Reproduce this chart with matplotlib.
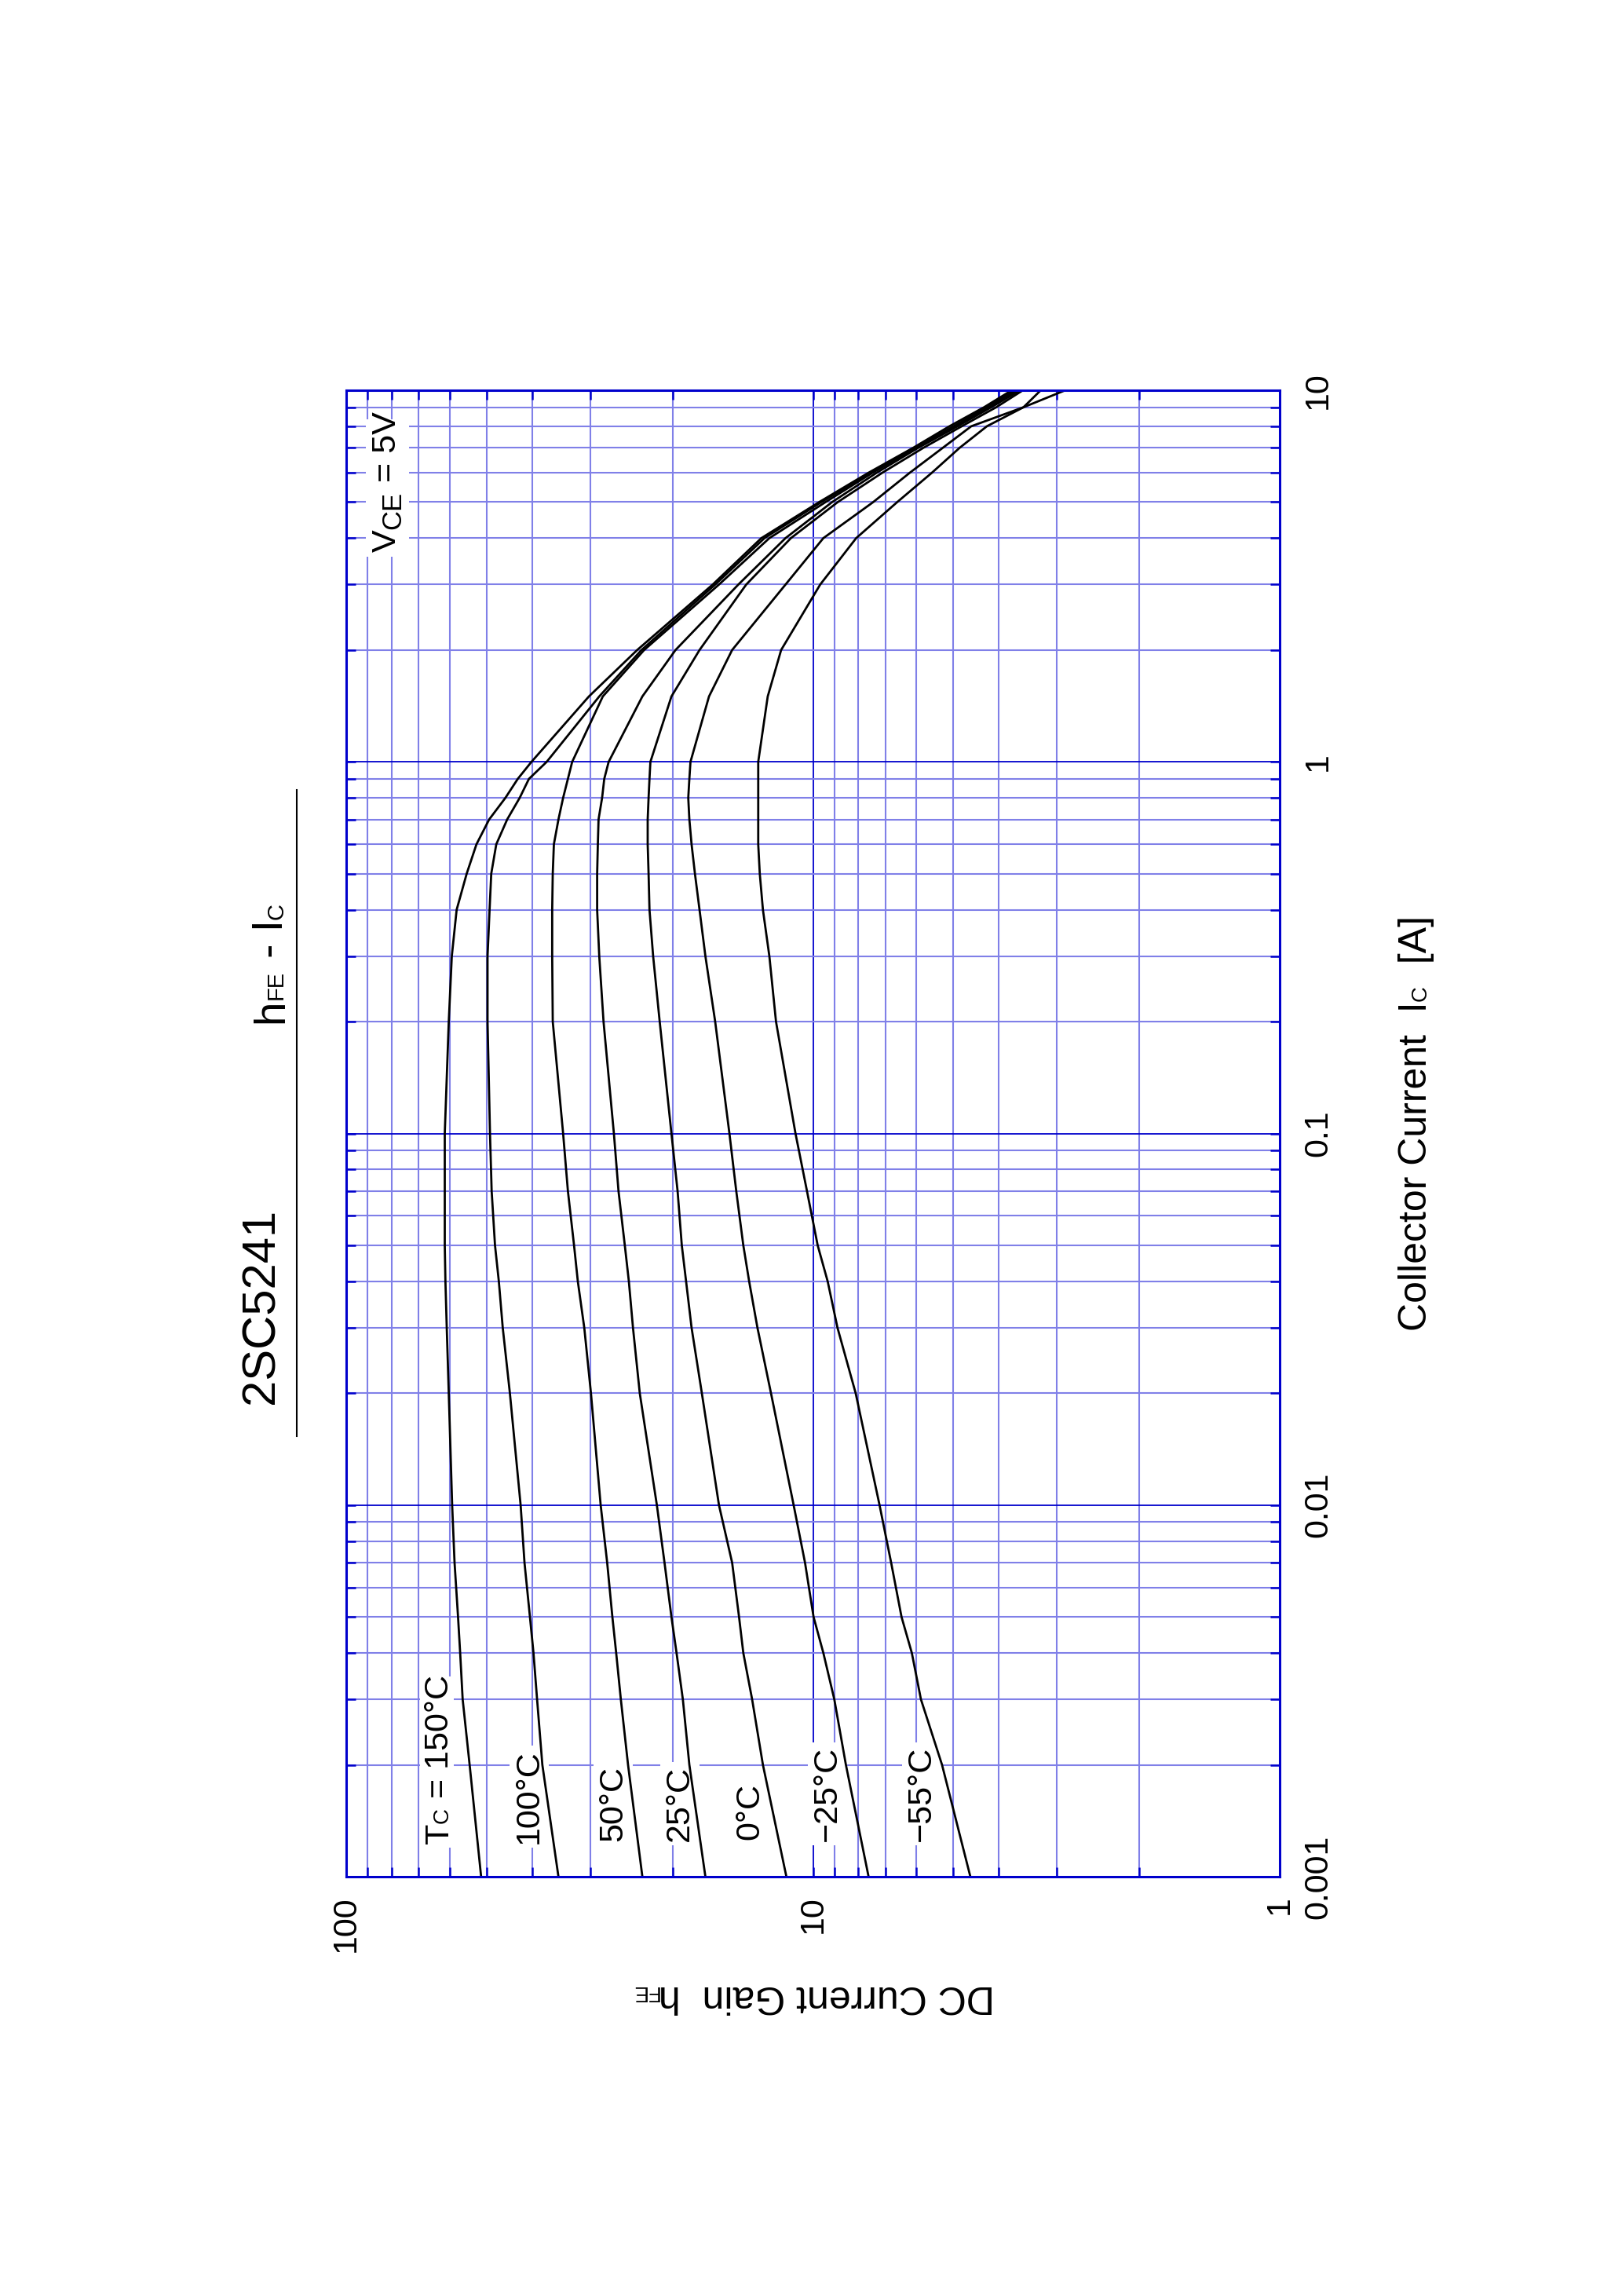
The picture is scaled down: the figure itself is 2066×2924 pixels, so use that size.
import matplotlib
matplotlib.use('Agg')
import matplotlib.pyplot as plt
from matplotlib.ticker import LogLocator, FixedLocator, FixedFormatter, NullFormatter
from matplotlib.font_manager import FontProperties
from matplotlib.patches import Rectangle
from matplotlib.lines import Line2D

FONT = 'Liberation Sans'
plt.rcParams['font.family'] = [FONT, 'DejaVu Sans']

# ---------------- data ----------------
ic = [0.001, 0.002, 0.003, 0.004, 0.005, 0.007, 0.01, 0.02, 0.03, 0.04, 0.05, 0.07,
      0.1, 0.2, 0.3, 0.4, 0.5, 0.6, 0.7, 0.8, 0.9, 1.0, 1.5, 2, 3, 4, 5, 6, 7, 8, 9, 10]

hfe_150 = [51.4, 54.4, 56.3, 57.0, 57.6, 58.6, 59.3, 60.3, 60.9, 61.3, 61.5, 61.5,
           61.5, 60.3, 59.4, 58.0, 55.2, 52.6, 49.4, 45.6, 42.9, 40.1, 30.2, 23.8,
           16.4, 12.9, 9.7, 7.6, 6.1, 5.1, 4.3, 3.75]
hfe_100 = [35.1, 38.0, 39.0, 39.7, 40.4, 41.5, 42.3, 44.6, 46.2, 47.1, 48.0, 48.8,
           49.2, 49.8, 49.8, 49.3, 48.9, 47.7, 45.2, 42.5, 40.6, 37.2, 28.7, 23.3,
           16.2, 12.7, 9.6, 7.5, 6.05, 5.0, 4.25, 3.7]
hfe_50 = [23.2, 24.9, 25.8, 26.4, 26.9, 27.6, 28.5, 29.9, 30.9, 31.9, 32.5, 33.5,
          34.3, 36.1, 36.2, 36.2, 36.1, 35.9, 35.1, 34.3, 33.5, 32.8, 28.2, 23.0,
          15.9, 12.4, 9.4, 7.45, 6.0, 4.95, 4.2, 3.65]
hfe_25 = [17.0, 18.4, 19.0, 19.6, 20.1, 20.8, 21.6, 23.5, 24.3, 24.8, 25.3, 26.1,
          26.7, 28.1, 28.7, 29.0, 29.0, 28.9, 28.8, 28.3, 28.0, 27.4, 23.2, 19.7,
          14.45, 11.45, 9.1, 7.3, 5.95, 4.9, 4.15, 3.6]
hfe_0 = [11.4, 12.8, 13.5, 14.1, 14.4, 14.9, 15.9, 17.3, 18.2, 18.7, 19.1, 19.5,
         20.1, 21.3, 22.0, 22.4, 22.5, 22.6, 22.6, 22.5, 22.4, 22.3, 20.1, 17.5,
         13.9, 11.15, 8.85, 7.1, 5.8, 4.8, 4.05, 3.55]
hfe_m25 = [7.6, 8.5, 9.0, 9.5, 9.97, 10.4, 11.0, 12.3, 13.15, 13.7, 14.1, 14.6,
           15.1, 16.2, 17.0, 17.5, 17.9, 18.2, 18.4, 18.5, 18.4, 18.3, 16.7, 14.9,
           11.45, 9.5, 7.43, 6.2, 5.27, 4.58, 3.54, 2.88]
hfe_m55 = [4.6, 5.29, 5.87, 6.14, 6.46, 6.8, 7.2, 8.1, 8.86, 9.3, 9.77, 10.3,
           10.9, 12.0, 12.4, 12.8, 13.0, 13.1, 13.1, 13.1, 13.1, 13.1, 12.5, 11.7,
           9.65, 8.08, 6.6, 5.56, 4.85, 4.24, 3.54, 3.25]

series = [hfe_150, hfe_100, hfe_50, hfe_25, hfe_0, hfe_m25, hfe_m55]

hfe_ticks = [100, 10, 1]
hfe_ticklabels = ['100', '10', '1']
ic_ticks = [0.001, 0.01, 0.1, 1, 10]
ic_ticklabels = ['0.001', '0.01', '0.1', '1', '10']

temp_labels = ['100°C', '50°C', '25°C', '0°C', '\u221225°C', '\u221255°C']

# ---------------- figure ----------------
W, H = 2066, 2924
DARK = '#0000CC'
LIGHT = '#8080E8'

fig = plt.figure(figsize=(W / 100, H / 100), dpi=100)


def fx(X):
    return X / W


def fy(Y):
    return 1 - Y / H


ax = fig.add_axes([fx(441), fy(2390), fx(1630) - fx(441), fy(497) - fy(2390)])
ax.set_xscale('log')
ax.set_yscale('log')
ax.set_xlim(100, 1)
ax.set_ylim(0.001, 10)

ax.xaxis.set_major_locator(FixedLocator(hfe_ticks))
ax.xaxis.set_major_formatter(FixedFormatter(hfe_ticklabels))
ax.xaxis.set_minor_locator(LogLocator(base=10, subs=range(2, 10), numticks=50))
ax.xaxis.set_minor_formatter(NullFormatter())
ax.yaxis.set_major_locator(FixedLocator(ic_ticks))
ax.yaxis.set_major_formatter(FixedFormatter(ic_ticklabels))
ax.yaxis.set_minor_locator(LogLocator(base=10, subs=range(2, 10), numticks=50))
ax.yaxis.set_minor_formatter(NullFormatter())

ax.grid(which='minor', color=LIGHT, lw=1.5)
ax.grid(which='major', color=DARK, lw=1.3)

ax.tick_params(which='both', direction='in', top=True, bottom=True, left=True,
               right=True, color=DARK, width=1.8, length=8.5)
ax.tick_params(axis='x', which='major', labelbottom=True, labeltop=False,
               labelsize=31, pad=17.5, labelrotation=90)
ax.tick_params(axis='y', which='major', labelleft=False, labelright=True,
               labelsize=31, pad=21, labelrotation=90)
for t in ax.yaxis.get_major_ticks():
    t.label2.set_va('center')
    t.label2.set_ha('left')
for t in ax.xaxis.get_major_ticks():
    t.label1.set_ha('center')
    t.label1.set_va('top')

for s in ax.spines.values():
    s.set_color(DARK)
    s.set_linewidth(2.2)

for h in series:
    ax.plot(h, ic, color='black', lw=2.0, zorder=2, solid_joinstyle='round')

# ---------------- texts ----------------
renderer = fig.canvas.get_renderer()


def adv(s, size):
    prop = FontProperties(family=FONT, size=size)
    w1 = renderer.get_text_width_height_descent('H' + s + 'H', prop, False)[0]
    w0 = renderer.get_text_width_height_descent('HH', prop, False)[0]
    return w1 - w0


def pieces(X, Y, parts, rot, z=1.8):
    for s, size, drop in parts:
        if rot == 90:
            px, py = X + drop, Y
        else:
            px, py = X, Y - drop
        ax.text(fx(px), fy(py), s, transform=fig.transFigure, rotation=rot,
                rotation_mode='anchor', ha='left', va='baseline', fontsize=size,
                family=FONT, zorder=z, clip_on=False)
        a = adv(s, size)
        if rot == 90:
            Y -= a
        else:
            X -= a


def white_box(X0, Y0, X1, Y1):
    r = Rectangle((fx(X0), fy(Y1)), fx(X1) - fx(X0), fy(Y0) - fy(Y1),
                  transform=fig.transFigure, facecolor='white', edgecolor='none',
                  zorder=1.7)
    ax.add_artist(r)


# Title
fig.text(fx(333.5), fy(1663), '2SC5241', rotation=90, ha='center', va='center',
         fontsize=43, family=FONT)
pieces(360, 1303, [('h', 39.5, 0), ('FE', 21, 0), (' - I', 39.5, 0), ('C', 21, 0)], 90)
fig.add_artist(Line2D([fx(378), fx(378)], [fy(1006), fy(1829)],
                      transform=fig.transFigure, color='black', lw=1.5))

# Axis labels
pieces(1817, 1695, [('Collector Current  I', 36, 0), ('C', 20, 0), ('  [A]', 36, 0)], 90)
pieces(1267, 2529, [('DC Current Gain  h', 36, 0), ('FE', 20, 0)], 180)

# VCE label
white_box(466, 534, 521, 709)
pieces(504, 703, [('V', 31, 0), ('CE', 25, 6), (' = 5V', 31, 0)], 90)

# Temperature labels
white_box(535, 2135, 578, 2353)
pieces(571, 2348, [('T', 31, 0), ('C', 20, 0), (' = 150°C', 31, 0)], 90)

label_pos = [(685, 2348), (792, 2345), (877, 2345), (966, 2343), (1065, 2345), (1185, 2345)]
for lab, (X, Y) in zip(temp_labels, label_pos):
    ax.text(fx(X), fy(Y), lab, transform=fig.transFigure, rotation=90,
            rotation_mode='anchor', ha='left', va='baseline', fontsize=31,
            family=FONT, zorder=1.8, clip_on=False,
            bbox=dict(boxstyle='square,pad=0.12', facecolor='white', edgecolor='none'))

fig.savefig('out.png', dpi=100)
